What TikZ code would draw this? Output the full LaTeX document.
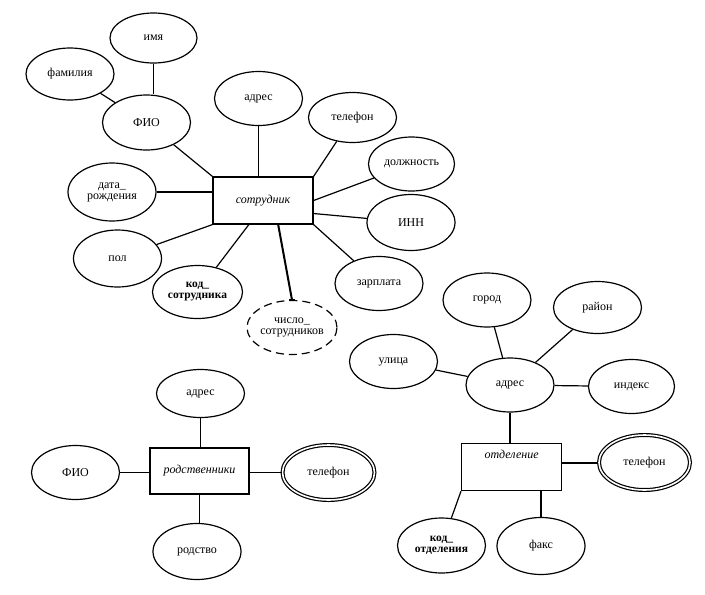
\documentclass[tikz,border=0pt]{standalone}
\usepackage{fontspec}
\setmainfont{Liberation Serif}
\usetikzlibrary{shapes.geometric,calc}
\tikzset{
  attr/.style={draw, ellipse, line width=1.2pt, inner sep=0pt, minimum width=88pt, minimum height=54pt, align=center, font=\fontsize{12}{12}\selectfont},
  keyattr/.style={attr, font=\fontsize{11.5}{12}\selectfont\bfseries},
  multiattr/.style={attr, double, double distance=1.6pt, minimum width=90pt, minimum height=54pt},
  derived/.style={attr, dash pattern=on 8pt off 5pt},
  entity/.style={draw, rectangle, line width=1.2pt, inner sep=0pt, minimum width=100pt, minimum height=47pt, font=\fontsize{12}{12}\selectfont\itshape},
  weakentity/.style={entity, line width=2.5pt, minimum width=99pt, minimum height=46pt},
  conn/.style={line width=1.2pt},
  thickconn/.style={line width=2pt}
}
\begin{document}
\begin{tikzpicture}[x=1pt,y=-1pt]
\useasboundingbox[fill=white] (0,0) rectangle (705,595);

% --- сотрудник cluster
\node[entity] (S) at (263,200.5) {сотрудник};
\node[attr, minimum width=87pt, minimum height=50pt] (imya) at (153.5,38) {имя};
\node[attr, minimum height=52pt] (fam) at (70,74) {фамилия};
\node[attr, minimum height=55pt] (fio) at (146.5,122.5) {ФИО};
\node[attr] (adr1) at (258.5,98.5) {адрес};
\node[attr, minimum height=58pt] (data) at (112,192) {дата\_\\[-1pt]рождения};
\node[attr, minimum height=57pt] (pol) at (117.5,258.5) {пол};
\node[keyattr, minimum width=90pt, minimum height=53pt] (kods) at (197.5,292) {код\_\\[-1pt]сотрудника};
\node[derived, minimum width=90pt] (chislo) at (292,327.5) {число\_\\[-1pt]сотрудников};
\node[attr, minimum height=50pt] (tel1) at (352.5,117.5) {телефон};
\node[attr, minimum width=86pt] (dolzh) at (411.5,164) {должность};
\node[attr, minimum height=56pt] (inn) at (411,222.5) {ИНН};
\node[attr] (zarp) at (379,283.5) {зарплата};

\draw[conn] (imya.south) -- (imya.south |- fio.north);
\draw[conn] (fam) -- (fio);
\draw[conn] (fio) -- (S.north west);
\draw[conn] (adr1.south) -- (adr1.south |- S.north);
\draw[conn] (data.east) -- (data.east -| S.west);
\draw[conn] (pol) -- (S.south west);
\draw[conn] (kods) -- ($(S.south west)!0.36!(S.south east)$);
\draw[thickconn] ($(S.south west)!0.65!(S.south east)$) -- (chislo.north);
\coordinate (tickL) at ($(chislo.north)+(-3,0)$);
\coordinate (tickR) at ($(chislo.north)+(3,0)$);
\draw[conn] (tickL) -- (tickR);
\draw[conn] (tel1) -- (S.north east);
\draw[conn] (dolzh) -- (S.east);
\draw[conn] (inn) -- ($(S.north east)!0.77!(S.south east)$);
\draw[conn] (zarp) -- (S.south east);

% --- отделение cluster
\node[entity, anchor=north west, text height=12pt, text depth=29pt, inner ysep=3pt] (O) at (461,443) {отделение};
\node[attr] (adr2) at (510,385) {адрес};
\node[attr] (gorod) at (487,300) {город};
\node[attr, minimum height=52pt] (rayon) at (597.5,307.5) {район};
\node[attr] (ulica) at (393.5,361.5) {улица};
\node[attr, minimum width=86pt] (index) at (631.5,386.5) {индекс};
\node[multiattr, minimum width=91pt, minimum height=55pt] (tel3) at (644.5,462.5) {телефон};
\node[keyattr, minimum height=55pt] (kodo) at (441.5,545.5) {код\_\\[-1pt]отделения};
\node[attr, minimum height=57pt] (fax) at (541,546) {факс};

\draw[conn] (adr2.south) -- (adr2.south |- O.north);
\draw[conn] (gorod) -- (adr2);
\draw[conn] (rayon) -- (adr2);
\draw[conn] (ulica) -- (adr2);
\draw[conn] (index) -- (adr2);
\draw[thickconn] (tel3.west) -- (tel3.west -| O.east);
\draw[conn] (kodo) -- (O.south west);
\draw[conn] (fax.north) -- (fax.north |- O.south);

% --- родственники cluster
\node[weakentity] (R) at (199.5,471) {родственники};
\node[attr, minimum height=48pt] (adr3) at (200.5,393.5) {адрес};
\node[attr] (fio2) at (75.5,472.5) {ФИО};
\node[multiattr, minimum width=92pt, minimum height=55pt] (tel2) at (328.5,472.5) {телефон};
\node[attr, minimum height=56pt] (rod) at (197,551.5) {родство};

\draw[conn] (adr3.south) -- (adr3.south |- R.north);
\draw[conn] (fio2.east) -- (fio2.east -| R.west);
\draw[conn] (tel2.west) -- (tel2.west -| R.east);
\draw[conn] (R.south) -- (R.south |- rod.north);
\end{tikzpicture}
\end{document}
